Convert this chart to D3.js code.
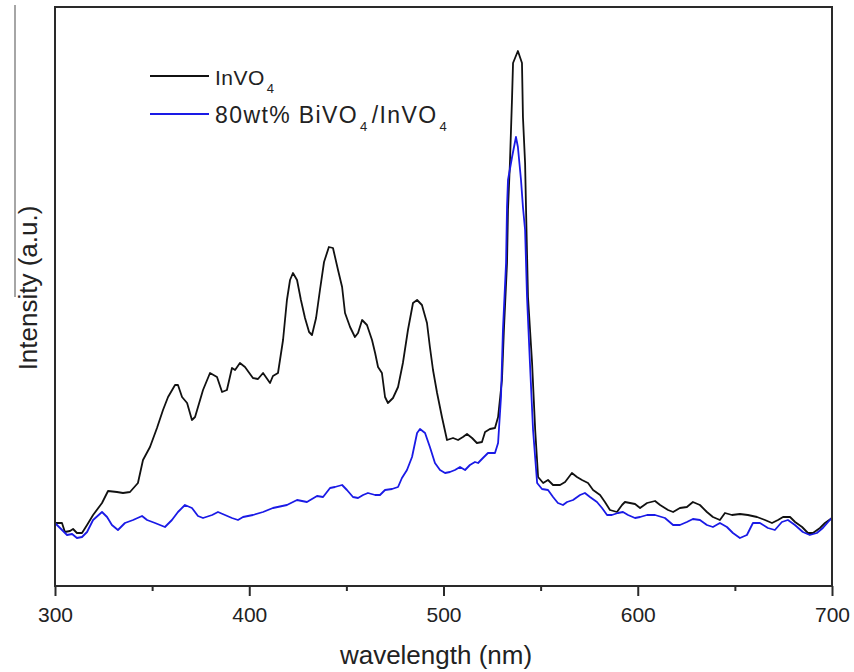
<!DOCTYPE html>
<html><head><meta charset="utf-8">
<script src="https://cdn.jsdelivr.net/npm/d3@7/dist/d3.min.js"></script>
<style>body{margin:0;background:#fff}svg{display:block}text{font-family:Arial,"Liberation Sans",sans-serif;fill:#222}</style>
</head><body><svg id="c" width="854" height="672"></svg>
<script>
const wavelengthTicks = [300, 400, 500, 600, 700];
const minorTicks = [350, 450, 550, 650];
const seriesNames = ["InVO4", "80wt% BiVO4/InVO4"];

const invo4Wl = [300,303.6,305.1,307.7,309.3,311.3,313.9,316.5,319.6,324.2,327.3,331.9,335.0,338.6,342.7,345.3,348.9,352.5,355.6,358.2,361.8,363.3,365.4,368.0,370.5,372.1,376.2,379.8,383.4,386.0,388.5,391.1,392.7,395.2,397.8,401.9,404.5,407.1,410.7,412.2,414.8,417.4,419.4,421.0,422.5,424.6,426.6,428.7,430.8,432.3,434.4,436.4,438.5,441.0,443.1,445.7,447.8,449.3,451.9,454.4,456.0,458.1,460.6,463.2,464.8,466.3,468.3,469.9,471.4,474.0,476.6,479.1,481.7,484.3,486.4,488.9,491.5,493.0,494.6,496.7,499.2,501.8,504.9,507.5,510.0,512.1,514.7,517.2,519.8,521.4,523.9,526.5,528.1,530.1,531.1,532.7,533.2,534.2,535.3,535.8,538.3,540.4,540.9,542.0,542.5,543.5,545.6,547.2,548.7,551.3,553.8,556.4,560.0,562.6,566.1,568.7,571.3,574.4,577.0,580.6,583.1,585.7,589.3,591.9,593.4,596.0,598.6,601.2,604.8,608.9,611.5,615.6,618.2,621.7,625.3,628.4,632.0,635.6,638.7,642.3,644.9,648.5,652.6,656.7,661.4,665.5,669.1,672.2,674.8,678.4,681.0,684.6,687.6,690.2,693.8,696.4,700];
const invo4Int = [63,63,54,55,57,53,53,61,71,83,95,94,93,94,103,126,139,158,176,189,201,201,189,183,166,169,196,213,209,194,196,218,216,223,219,208,207,213,203,210,213,246,286,306,313,306,286,268,254,251,268,296,324,339,338,316,299,273,259,249,253,266,261,246,233,219,213,189,183,188,199,223,256,283,286,281,263,239,216,193,169,146,148,146,149,152,148,143,144,154,157,158,169,206,256,323,376,423,489,523,535,523,469,423,376,289,223,156,109,103,106,101,101,104,113,109,106,103,96,91,84,76,74,81,84,83,82,78,83,85,81,76,74,78,79,84,81,74,69,66,73,71,72,71,69,66,63,66,69,69,64,59,53,53,58,63,68];

const bivo4Wl = [300,302.6,306.2,308.8,311.3,313.9,316.5,319.6,324.2,326.8,329.3,332.4,336.0,340.2,344.8,347.4,351.5,356.6,360.2,363.3,366.9,370.5,373.6,376.2,380.9,383.9,387.5,391.1,394.2,396.8,401.9,407.1,412.2,419.4,424.6,429.7,434.9,438.0,441.6,444.1,447.8,450.3,453.4,456.0,458.6,461.1,464.8,467.3,469.9,473.5,476.6,478.6,481.2,483.8,486.4,487.9,490.5,493.0,495.6,498.2,500.8,503.3,505.9,508.5,511.1,513.6,516.2,517.8,520.3,522.9,526.5,528.1,529.6,530.6,532.2,532.7,533.2,535.3,537.3,538.3,539.9,540.9,542.0,543.0,544.5,546.1,548.2,550.7,553.8,556.4,558.9,561.5,563.6,566.7,570.3,572.8,575.4,579.0,581.6,584.2,586.7,589.8,592.4,595.0,598.6,601.2,604.8,608.9,614.0,618.2,621.7,625.3,628.4,632.0,635.6,638.7,642.3,645.9,649.0,652.6,656.2,659.3,662.9,667.0,670.6,674.2,677.3,680.9,685.0,688.6,692.2,695.3,698.9,700];
const bivo4Int = [63,58,51,52,48,49,54,66,74,69,61,56,63,66,70,66,63,59,66,74,81,78,70,68,71,74,71,68,66,69,71,74,78,81,86,84,90,89,98,99,101,96,89,88,91,93,91,91,96,97,99,108,116,129,153,157,153,139,123,116,113,114,116,119,116,121,124,123,128,133,133,143,189,256,323,379,406,429,449,439,406,379,356,289,223,156,103,97,96,89,83,81,84,86,91,93,89,84,78,71,71,73,74,71,68,69,71,71,68,61,61,64,67,66,61,59,63,59,53,48,51,63,63,58,56,64,66,61,54,51,53,58,66,68];

const svg = d3.select("#c");
const M = {l:55, r:832, t:7, b:586};
const x = d3.scaleLinear().domain([300,700]).range([M.l, M.r]);
const y = d3.scaleLinear().domain([0,579]).range([M.b, M.t]);

// stray line at far left
svg.append("line").attr("x1",15).attr("x2",15).attr("y1",5).attr("y2",297)
  .attr("stroke","#888").attr("stroke-width",1.5);

const line = d3.line().x(d=>x(d[0])).y(d=>y(d[1]));
const blueData = bivo4Wl.map((w,i)=>[w,bivo4Int[i]]);
const blackData = invo4Wl.map((w,i)=>[w,invo4Int[i]]);
svg.append("path").datum(blackData).attr("d",line).attr("fill","none").attr("stroke","#111").attr("stroke-width",1.8).attr("stroke-linejoin","round");
svg.append("path").datum(blueData).attr("d",line).attr("fill","none").attr("stroke","#1a1ae6").attr("stroke-width",1.8).attr("stroke-linejoin","round");

// frame
svg.append("rect").attr("x",M.l).attr("y",M.t).attr("width",M.r-M.l).attr("height",M.b-M.t)
  .attr("fill","none").attr("stroke","#2a2a2a").attr("stroke-width",2);

// bottom axis
const ax = d3.axisBottom(x).tickValues(wavelengthTicks).tickSize(10).tickFormat(d3.format("d"));
const g = svg.append("g").attr("transform",`translate(0,${M.b})`).call(ax);
g.select(".domain").remove();
g.selectAll(".tick line").attr("stroke","#2a2a2a").attr("stroke-width",2);
g.selectAll(".tick text").attr("font-size",21).attr("dy",0).attr("y",36).style("font-family","Arial, 'Liberation Sans', sans-serif").attr("fill","#222");
const axm = d3.axisBottom(x).tickValues(minorTicks).tickSize(5).tickFormat("");
const gm = svg.append("g").attr("transform",`translate(0,${M.b})`).call(axm);
gm.select(".domain").remove();
gm.selectAll(".tick line").attr("stroke","#2a2a2a").attr("stroke-width",2);

// titles
svg.append("text").attr("x",436).attr("y",664).attr("text-anchor","middle").attr("font-size",26).text("wavelength (nm)");
svg.append("text").attr("transform","translate(37,288) rotate(-90)").attr("text-anchor","middle").attr("font-size",26).text("Intensity (a.u.)");

// legend
const leg = [{c:"#111", y:76, size:21, ls:0.5, parts:[["InVO",""],["4","sub"]]},
             {c:"#1a1ae6", y:114, size:23, ls:1.4, parts:[["80wt% BiVO",""],["4","sub"],["/InVO",""],["4","sub"]]}];
leg.forEach((L,i)=>{
  svg.append("line").attr("x1",150).attr("x2",209).attr("y1",L.y).attr("y2",L.y).attr("stroke",L.c).attr("stroke-width",1.8);
  const t = svg.append("text").attr("x",215).attr("y",L.y+9).attr("font-size",L.size).attr("letter-spacing",L.ls);
  L.parts.forEach(p=>{
    const ts = t.append("tspan").text(p[0]);
    if(p[1]==="sub") ts.attr("font-size",13).attr("dy",8).attr("dx",2);
    else ts.attr("dy", t.selectAll("tspan").size()>1 ? -8 : 0).attr("dx", t.selectAll("tspan").size()>1 ? 3 : 0);
  });
});
</script></body></html>
